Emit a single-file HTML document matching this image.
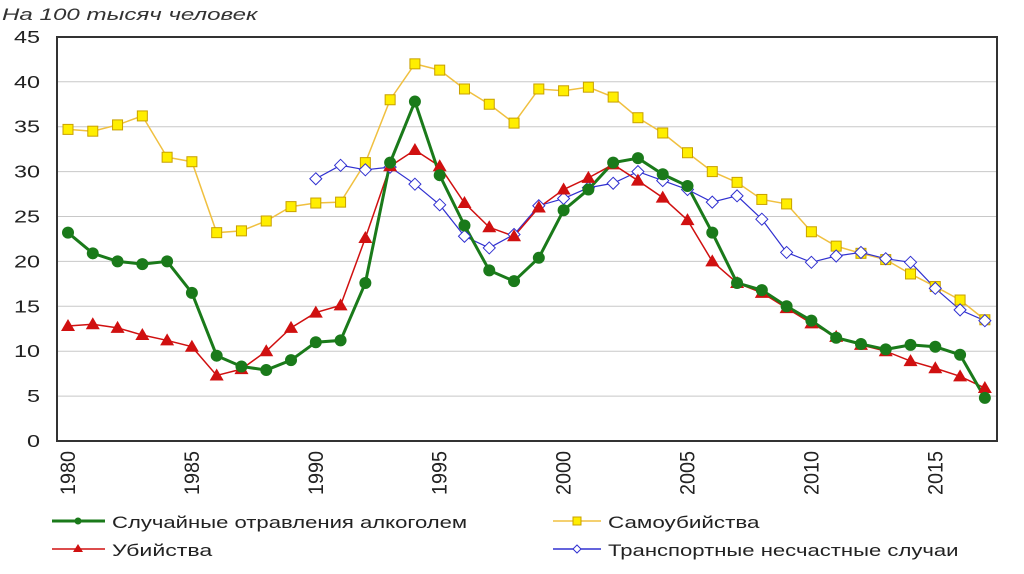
<!DOCTYPE html><html><head><meta charset="utf-8"><style>body{margin:0;background:#fff}svg{display:block}text{font-family:"Liberation Sans",sans-serif}</style></head><body>
<svg id="s" width="1024" height="574" xmlns="http://www.w3.org/2000/svg">
<text transform="translate(2,20) scale(1.42,1)" font-size="17" font-style="italic" fill="#333">На 100 тысяч человек</text>
<g id="grid"></g>
<rect x="57" y="37" width="940" height="404" fill="none" stroke="#333" stroke-width="2"/>
<g id="lab" font-size="18" fill="#222"></g>
<g id="ser"></g>
<g font-size="17" fill="#222">
<line x1="52" y1="521" x2="105" y2="521" stroke="#1a7a1a" stroke-width="3"/><circle cx="78" cy="521" r="3.5" fill="#1a7a1a"/>
<text transform="translate(112,528) scale(1.3,1)">Случайные отравления алкоголем</text>
<line x1="52" y1="549" x2="105" y2="549" stroke="#d01010" stroke-width="1.5"/><polygon points="78,544 83,552 73,552" fill="#d01010"/>
<text transform="translate(112,556) scale(1.36,1)">Убийства</text>
<line x1="553" y1="521" x2="601" y2="521" stroke="#f0c040" stroke-width="1.5"/><rect x="573" y="517" width="8" height="8" fill="#ffee00" stroke="#c8a000"/>
<text transform="translate(608,528) scale(1.32,1)">Самоубийства</text>
<line x1="553" y1="549" x2="601" y2="549" stroke="#3030d0" stroke-width="1.5"/><polygon points="577,545 581,549 577,553 573,549" fill="#fff" stroke="#3030d0"/>
<text transform="translate(608,556) scale(1.3,1)">Транспортные несчастные случаи</text>
</g>
</svg>
<script>
const NS="http://www.w3.org/2000/svg";
function el(t,a,p){const e=document.createElementNS(NS,t);for(const k in a)e.setAttribute(k,a[k]);document.getElementById(p).appendChild(e);return e;}
const X=y=>68+(y-1980)*24.78, Y=v=>441-v*8.98;
for(let v=5;v<=40;v+=5)el('line',{x1:57,x2:997,y1:Y(v),y2:Y(v),stroke:'#c8c8c8'},'grid');
for(let v=0;v<=45;v+=5){const t=el('text',{transform:`translate(40,${Y(v)+6}) scale(1.3,1)`,'text-anchor':'end'},'lab');t.textContent=v;}
for(let y=1980;y<=2015;y+=5){const t=el('text',{transform:`translate(${X(y)+7},451) rotate(-90) scale(1.1,1.2)`,'text-anchor':'end'},'lab');t.textContent=y;}
const G=[23.2,20.9,20.0,19.7,20.0,16.5,9.5,8.3,7.9,9.0,11.0,11.2,17.6,31.0,37.8,29.6,24.0,19.0,17.8,20.4,25.7,28.0,31.0,31.5,29.7,28.4,23.2,17.6,16.8,15.0,13.4,11.5,10.8,10.2,10.7,10.5,9.6,4.8];
const Yl=[34.7,34.5,35.2,36.2,31.6,31.1,23.2,23.4,24.5,26.1,26.5,26.6,31.0,38.0,42.0,41.3,39.2,37.5,35.4,39.2,39.0,39.4,38.3,36.0,34.3,32.1,30.0,28.8,26.9,26.4,23.3,21.7,20.9,20.2,18.6,17.2,15.7,13.5];
const R=[12.8,13.0,12.6,11.8,11.2,10.5,7.3,8.0,10.0,12.6,14.3,15.1,22.6,30.6,32.4,30.6,26.5,23.8,22.8,26.0,28.0,29.3,30.8,29.0,27.1,24.6,20.0,17.6,16.5,14.8,13.1,11.6,10.7,10.0,8.9,8.1,7.2,5.9];
const B=[29.2,30.7,30.2,30.5,28.6,26.3,22.8,21.5,23.0,26.2,27.0,28.2,28.7,30.0,29.0,28.0,26.6,27.3,24.7,21.0,19.9,20.6,21.0,20.3,19.9,17.0,14.6,13.4];
function line(d,s,c,w){el('polyline',{points:d.map((v,i)=>X(s+i)+','+Y(v)).join(' '),fill:'none',stroke:c,'stroke-width':w},'ser');}
line(Yl,1980,'#f0c040',1.5);line(B,1990,'#3030d0',1.2);line(R,1980,'#d01010',1.5);line(G,1980,'#1a7a1a',3);
Yl.forEach((v,i)=>el('rect',{x:X(1980+i)-5,y:Y(v)-5,width:10,height:10,fill:'#ffee00',stroke:'#c8a000'},'ser'));
B.forEach((v,i)=>{const x=X(1990+i),y=Y(v);el('polygon',{points:`${x},${y-6} ${x+6},${y} ${x},${y+6} ${x-6},${y}`,fill:'#fff',stroke:'#3030d0'},'ser');});
R.forEach((v,i)=>{const x=X(1980+i),y=Y(v);el('polygon',{points:`${x},${y-7} ${x+7},${y+5} ${x-7},${y+5}`,fill:'#d01010'},'ser');});
G.forEach((v,i)=>el('circle',{cx:X(1980+i),cy:Y(v),r:6,fill:'#1a7a1a'},'ser'));
</script></body></html>
